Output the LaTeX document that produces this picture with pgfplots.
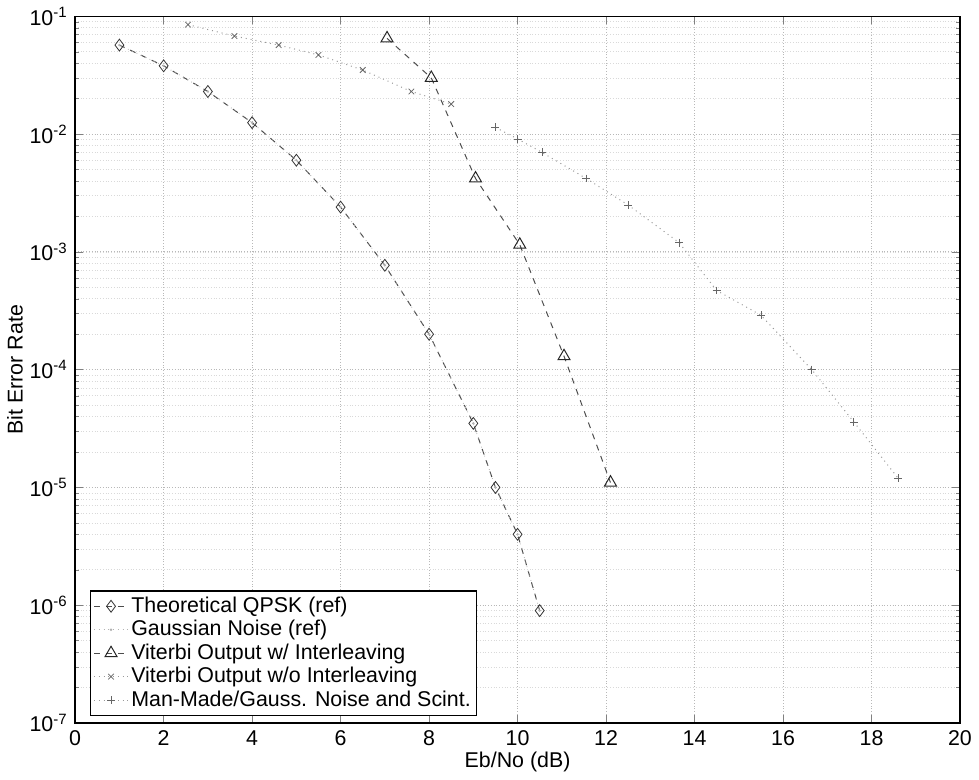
\documentclass[border=0pt]{standalone}
\usepackage{fontspec}
\setmainfont{Liberation Sans}
\usepackage{pgfplots}
\pgfplotsset{compat=1.18}
\begin{document}
\fontsize{10.8}{12}\selectfont
\begin{tikzpicture}
\begin{axis}[
  scale only axis,
  width=447pt, height=357pt,
  xmin=0, xmax=20, ymin=1e-7, ymax=1e-1,
  ymode=log,
  xtick={0,2,...,20},
  ytick={1e-7,1e-6,1e-5,1e-4,1e-3,1e-2,1e-1},
  yticklabels={10\textsuperscript{-7},10\textsuperscript{-6},10\textsuperscript{-5},10\textsuperscript{-4},10\textsuperscript{-3},10\textsuperscript{-2},10\textsuperscript{-1}},
  /pgf/number format/assume math mode=true,
  tick label style={font=\fontsize{10.8}{12}\selectfont},
  label style={font=\fontsize{10.8}{12}\selectfont},
  xlabel={Eb/No (dB)},
  ylabel={Bit Error Rate},
  xlabel style={yshift=4pt},
  ylabel style={yshift=-4pt},
  grid=both,
  major grid style={black!28, densely dotted, line width=0.4pt},
  minor grid style={black!15, densely dotted, line width=0.3pt},
  tick align=inside,
  major tick length=4pt, minor tick length=2pt,
  axis line style={black, line width=0.8pt},
  legend cell align=left,
  legend style={at={(rel axis cs:0.017,0.01)}, anchor=south west,
    draw=black, line width=0.6pt, font=\fontsize{10.8}{12}\selectfont,
    inner sep=1.5pt, row sep=-0.6pt, nodes={inner sep=1.5pt}},
  legend image post style={line width=0.4pt},
]
\addplot[black!70, dashed, line width=0.5pt, mark=diamond, mark size=3pt,
  mark options={solid, black!80, line width=0.4pt}] coordinates {
  (1,0.057) (2,0.038) (3,0.023) (4,0.0125) (5,0.006) (6,0.0024)
  (7,0.00077) (8,0.0002) (9,3.5e-5) (9.5,1e-5) (10,4e-6) (10.5,9e-7)};
\addlegendentry{Theoretical QPSK (ref)}
\addplot[black!30, dotted, line width=0.4pt, mark=*, mark size=0.4pt,
  mark options={solid, black!30}] coordinates {
  (1,0.057) (2,0.038) (3,0.023) (4,0.0125) (5,0.006) (6,0.0024)
  (7,0.00077) (8,0.0002) (9,3.5e-5) (9.5,1e-5) (10,4e-6) (10.5,9e-7)};
\addlegendentry{Gaussian Noise (ref)}
\addplot[black!70, dashed, line width=0.5pt, mark=triangle, mark size=3.5pt,
  mark options={solid, black!85, line width=0.5pt}] coordinates {
  (7.05,0.065) (8.05,0.030) (9.05,0.0042) (10.05,0.00115) (11.05,0.00013) (12.1,1.1e-5)};
\addlegendentry{Viterbi Output w/ Interleaving}
\addplot[black!40, dotted, line width=0.5pt, mark=x, mark size=2pt,
  mark options={solid, black!60, line width=0.4pt}] coordinates {
  (2.55,0.085) (3.6,0.068) (4.6,0.057) (5.5,0.047) (6.5,0.035) (7.6,0.023) (8.5,0.018)};
\addlegendentry{Viterbi Output w/o Interleaving}
\addplot[black!40, dotted, line width=0.5pt, mark=+, mark size=2pt,
  mark options={solid, black!60, line width=0.4pt}] coordinates {
  (9.5,0.0114) (10,0.0091) (10.55,0.007) (11.55,0.0042) (12.5,0.0025) (13.65,0.0012)
  (14.5,0.00047) (15.5,0.00029) (16.65,0.0001) (17.6,3.6e-5) (18.6,1.2e-5)};
\addlegendentry{Man-Made/Gauss. Noise and Scint.}
\end{axis}
\end{tikzpicture}
\end{document}
